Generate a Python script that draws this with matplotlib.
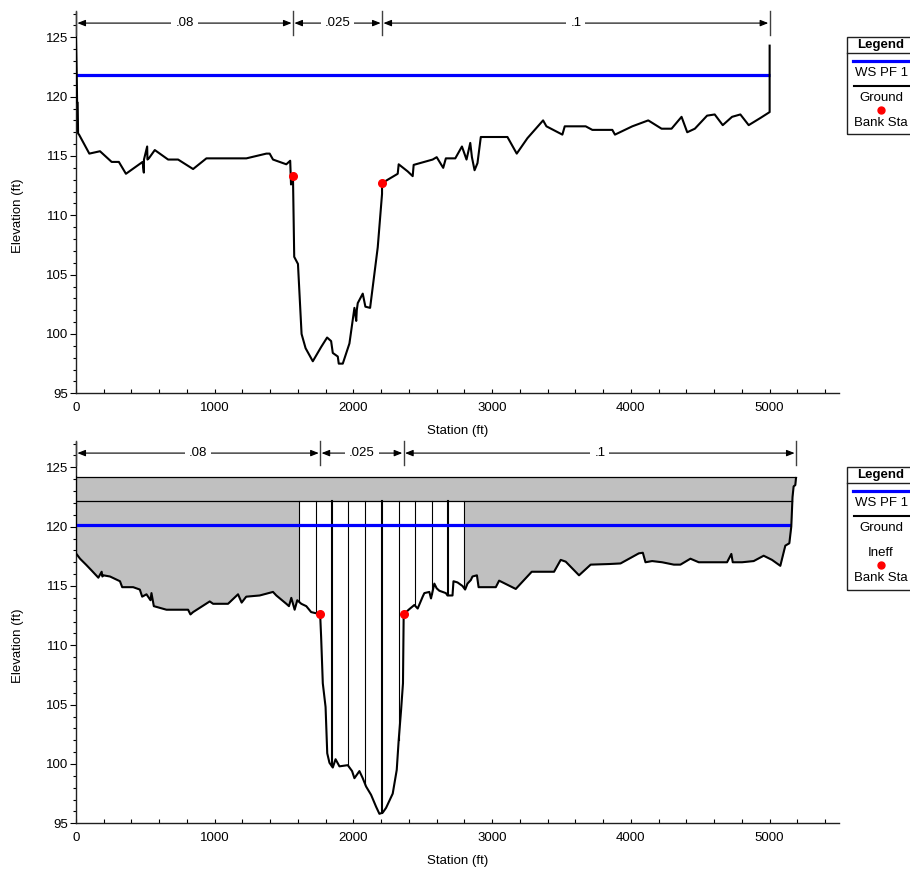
import numpy as np
import matplotlib
matplotlib.use("Agg")
import matplotlib.pyplot as plt
from matplotlib.patches import Rectangle
from matplotlib.lines import Line2D
from matplotlib.ticker import MultipleLocator

plt.rcParams['font.family'] = ['Liberation Sans', 'DejaVu Sans']
plt.rcParams['font.size'] = 9.5

# ---------------- data: top panel ----------------
top_ground_sta = [0, 5, 8, 12, 15, 22, 96, 173, 257, 309, 360, 480, 489, 490, 513, 515, 525, 568,
                  664, 736, 844, 940, 1228, 1372, 1396, 1420, 1516, 1544, 1550, 1556, 1564, 1573,
                  1600, 1626, 1655, 1707, 1767, 1810, 1839, 1851, 1887, 1894, 1923, 1971, 2007,
                  2020, 2024, 2031, 2067, 2086, 2120, 2175, 2206, 2206, 2247, 2319, 2326, 2391,
                  2427, 2434, 2571, 2600, 2647, 2666, 2734, 2782, 2815, 2842, 2854, 2873, 2894,
                  2918, 3110, 3177, 3254, 3367, 3391, 3506, 3523, 3674, 3722, 3866, 3885, 4010,
                  4125, 4221, 4293, 4365, 4406, 4461, 4549, 4604, 4662, 4729, 4789, 4849, 4933,
                  5000, 5000]
top_ground_elev = [125.0, 122.0, 119.5, 119.5, 116.9, 116.8, 115.2, 115.4, 114.5, 114.5, 113.5,
                   114.5, 113.6, 114.7, 115.8, 114.7, 114.8, 115.5, 114.7, 114.7, 113.9, 114.8,
                   114.8, 115.2, 115.2, 114.7, 114.3, 114.6, 112.6, 113.2, 113.3, 106.5, 105.9,
                   100.0, 98.8, 97.7, 98.9, 99.7, 99.4, 98.4, 98.1, 97.5, 97.5, 99.2, 102.2, 101.1,
                   102.0, 102.6, 103.4, 102.3, 102.2, 107.3, 111.8, 112.7, 113.0, 113.5, 114.3,
                   113.7, 113.3, 114.25, 114.7, 114.9, 114.0, 114.8, 114.8, 115.8, 114.7, 116.1,
                   114.9, 113.8, 114.4, 116.6, 116.6, 115.2, 116.5, 118.0, 117.5, 116.8, 117.5,
                   117.5, 117.2, 117.2, 116.8, 117.5, 118.0, 117.3, 117.3, 118.3, 117.0, 117.3,
                   118.4, 118.5, 117.6, 118.3, 118.5, 117.6, 118.2, 118.7, 124.3]
top_ws_elev = 121.8
top_bank_sta = [1564, 2206]
top_bank_elev = [113.3, 112.7]
top_n_bounds = [0, 1564, 2206, 5000]
top_n_values = [".08", ".025", ".1"]
top_legend_labels = ["WS PF 1", "Ground", "Bank Sta"]

# ---------------- data: bottom panel ----------------
bot_ground_sta = [0, 0, 29, 72, 113, 161, 185, 190, 197, 245, 317, 333, 412, 460, 477, 508, 537,
                  544, 561, 652, 676, 808, 825, 844, 964, 988, 1096, 1168, 1194, 1227, 1324, 1420,
                  1444, 1516, 1535, 1552, 1576, 1595, 1624, 1660, 1695, 1731, 1760, 1767, 1779,
                  1799, 1811, 1827, 1851, 1871, 1899, 1959, 1990, 2007, 2043, 2067, 2091, 2127,
                  2163, 2187, 2211, 2235, 2283, 2312, 2326, 2343, 2357, 2362, 2398, 2439, 2463,
                  2499, 2511, 2547, 2559, 2583, 2600, 2619, 2666, 2678, 2714, 2721, 2750, 2786,
                  2805, 2822, 2846, 2858, 2890, 2902, 3026, 3050, 3170, 3285, 3446, 3494, 3530,
                  3626, 3710, 3842, 3925, 4057, 4086, 4105, 4153, 4225, 4309, 4357, 4429, 4489,
                  4693, 4724, 4734, 4801, 4885, 4957, 5017, 5077, 5113, 5142, 5156, 5165, 5173,
                  5185, 5190]
bot_ground_elev = [124.2, 117.75, 117.3, 116.8, 116.3, 115.7, 116.2, 115.8, 115.9, 115.8, 115.4,
                   114.9, 114.9, 114.7, 114.1, 114.3, 113.8, 114.4, 113.3, 113.0, 113.0, 113.0,
                   112.6, 112.8, 113.7, 113.5, 113.5, 114.3, 113.6, 114.1, 114.2, 114.5, 114.2,
                   113.5, 113.3, 114.0, 113.0, 113.8, 113.5, 113.3, 112.8, 112.7, 112.6, 110.7,
                   106.8, 104.8, 100.9, 100.1, 99.7, 100.4, 99.8, 99.9, 99.4, 98.8, 99.4, 98.8,
                   98.1, 97.4, 96.4, 95.8, 95.9, 96.3, 97.5, 99.5, 102.0, 104.5, 106.8, 112.6,
                   113.0, 113.4, 113.1, 114.1, 114.4, 114.5, 113.95, 115.2, 114.8, 114.6, 114.4,
                   114.2, 114.2, 115.4, 115.3, 115.0, 114.7, 115.2, 115.5, 115.8, 115.9, 114.9,
                   114.9, 115.45, 114.75, 116.2, 116.2, 117.2, 117.05, 115.9, 116.8, 116.85,
                   116.9, 117.75, 117.8, 117.0, 117.1, 117.0, 116.8, 116.8, 117.3, 117.0, 117.0,
                   117.7, 117.0, 117.0, 117.1, 117.55, 117.2, 116.7, 118.4, 118.6, 120.0, 122.5,
                   123.4, 123.5, 124.1]
bot_ws_elev = 120.1
bot_bank_sta = [1760, 2362]
bot_bank_elev = [112.6, 112.6]
bot_n_bounds = [0, 1760, 2362, 5190]
bot_n_values = [".08", ".025", ".1"]
ineff_left_end = 1607
ineff_right_start = 2799
ineff_top_elev = 124.15
ineff_band_elev = 122.2
slice_sta = [1727, 1844, 1964, 2086, 2206, 2326, 2446, 2566, 2683]
slice_thick = [1844, 2206, 2683]
bot_legend_labels = ["WS PF 1", "Ground", "Ineff", "Bank Sta"]

W, H = 910, 872
fig = plt.figure(figsize=(W / 100, H / 100), dpi=100)

YMAX = 127.16


def style_axes(ax, ylabel_text="Elevation (ft)", xlabel_text="Station (ft)"):
    ax.set_xlim(0, 5500)
    ax.set_ylim(95, YMAX)
    for s in ["top", "right"]:
        ax.spines[s].set_visible(False)
    for s in ["left", "bottom"]:
        ax.spines[s].set_color("#202020")
        ax.spines[s].set_linewidth(1.0)
    ax.set_xticks([0, 1000, 2000, 3000, 4000, 5000])
    ax.xaxis.set_minor_locator(MultipleLocator(200))
    ax.set_yticks([95, 100, 105, 110, 115, 120, 125])
    ax.yaxis.set_minor_locator(MultipleLocator(1))
    ax.tick_params(axis="x", which="both", direction="in", length=3, width=0.8, pad=6,
                   labelsize=9.5, colors="black")
    ax.tick_params(axis="y", which="major", direction="out", length=4.5, width=0.8, pad=1,
                   labelsize=9.5)
    ax.tick_params(axis="y", which="minor", direction="out", length=2.2, width=0.8)
    ax.text(-0.076, (110.0 - 95) / (YMAX - 95), ylabel_text, transform=ax.transAxes,
            rotation=90, ha="center", va="center", fontsize=9.5)
    ax.text(0.5, -0.098, xlabel_text, transform=ax.transAxes, ha="center", va="center",
            fontsize=9.5)


def roughness(ax, bounds, values):
    y_arrow = 126.2
    for b in bounds:
        ax.plot([b, b], [125.2, 127.2], color="#404040", lw=1.0, clip_on=False, zorder=5)
    for i, v in enumerate(values):
        a, b = bounds[i], bounds[i + 1]
        ax.annotate("", xy=(a, y_arrow), xytext=(b, y_arrow),
                    arrowprops=dict(arrowstyle="<|-|>,head_length=0.5,head_width=0.2",
                                    color="black", lw=0.8, shrinkA=1, shrinkB=1),
                    zorder=5, annotation_clip=False)
        ax.text((a + b) / 2, y_arrow, v, ha="center", va="center", fontsize=9.5,
                bbox=dict(boxstyle="square,pad=0.3", fc="white", ec="none"), zorder=6)


# ---------------- top axes ----------------
ax1 = fig.add_axes([76 / W, 1 - 393.3 / H, (839 - 76) / W, (393.3 - 11.7) / H])
style_axes(ax1)
ax1.plot([0, top_ground_sta[-1]], [top_ws_elev, top_ws_elev], color="#0000FF", lw=2.3, zorder=3,
         solid_capstyle="butt")
ax1.plot(top_ground_sta, top_ground_elev, color="black", lw=1.5, zorder=4)
ax1.plot(top_bank_sta, top_bank_elev, "o", color="#FF0000", ms=5.5, zorder=6)
roughness(ax1, top_n_bounds, top_n_values)

# ---------------- bottom axes ----------------
ax2 = fig.add_axes([76 / W, 1 - 823.3 / H, (839 - 76) / W, (823.3 - 441.7) / H])
style_axes(ax2)

gs = np.array(bot_ground_sta, dtype=float)
ge = np.array(bot_ground_elev, dtype=float)
g_left = np.interp(ineff_left_end, gs[1:], ge[1:])
g_right = np.interp(ineff_right_start, gs[1:], ge[1:])

# gray ineffective polygon lower boundary
mask_l = gs[1:] < ineff_left_end
mask_r = gs > ineff_right_start
xs = np.concatenate([gs[1:][mask_l], [ineff_left_end, ineff_left_end, ineff_right_start,
                                      ineff_right_start], gs[mask_r]])
ys = np.concatenate([ge[1:][mask_l], [g_left, ineff_band_elev, ineff_band_elev, g_right],
                     ge[mask_r]])
ax2.fill_between(xs, ys, ineff_top_elev, color="#C0C0C0", lw=0, zorder=1)

# right-end crossings
tail = gs > 5050
x_band_end = np.interp(ineff_band_elev, ge[tail], gs[tail])
x_ws_end = np.interp(bot_ws_elev, ge[tail], gs[tail])

ax2.plot([0, gs[-1]], [ineff_top_elev, ineff_top_elev], color="black", lw=0.9, zorder=2)
ax2.plot([0, x_band_end], [ineff_band_elev, ineff_band_elev], color="black", lw=0.9, zorder=2)
for s in [ineff_left_end, ineff_right_start]:
    ax2.plot([s, s], [np.interp(s, gs[1:], ge[1:]), ineff_band_elev], color="black", lw=0.8,
             zorder=2)
for s in slice_sta:
    lw = 1.5 if s in slice_thick else 0.8
    ax2.plot([s, s], [np.interp(s, gs[1:], ge[1:]), ineff_band_elev], color="black", lw=lw,
             zorder=2)

ax2.plot([0, x_ws_end], [bot_ws_elev, bot_ws_elev], color="#0000FF", lw=2.3, zorder=3,
         solid_capstyle="butt")
ax2.plot(bot_ground_sta, bot_ground_elev, color="black", lw=1.5, zorder=4)
ax2.plot(bot_bank_sta, bot_bank_elev, "o", color="#FF0000", ms=5.5, zorder=6)
roughness(ax2, bot_n_bounds, bot_n_values)


# ---------------- legends (figure pixel coords) ----------------
def fx(X):
    return X / W


def fy(Y):
    return 1 - Y / H


def legend_box(top, bottom, labels, item_ys):
    fig.add_artist(Rectangle((fx(847.3), fy(bottom)), fx(930) - fx(847.3), fy(top) - fy(bottom),
                             transform=fig.transFigure, fill=False, ec="#202020", lw=1.0,
                             clip_on=False))
    fig.add_artist(Line2D([fx(847.3), fx(930)], [fy(top + 16.6), fy(top + 16.6)],
                          transform=fig.transFigure, color="#202020", lw=1.0))
    fig.text(fx(881), fy(top + 8.5), "Legend", ha="center", va="center", fontsize=9.5,
             fontweight="bold")
    # WS line
    fig.add_artist(Line2D([fx(853), fx(930)], [fy(top + 24), fy(top + 24)],
                          transform=fig.transFigure, color="#0000FF", lw=2.3))
    fig.text(fx(855), fy(item_ys[0]), labels[0], ha="left", va="center", fontsize=9.5)
    # Ground line
    fig.add_artist(Line2D([fx(854), fx(930)], [fy(top + 49), fy(top + 49)],
                          transform=fig.transFigure, color="black", lw=1.5))
    for lab, yy in zip(labels[1:], item_ys[1:]):
        fig.text(fx(881), fy(yy), lab, ha="center", va="center", fontsize=9.5)
    fig.add_artist(Line2D([fx(881)], [fy(item_ys[-1] - 12.5)], transform=fig.transFigure,
                          marker="o", color="#FF0000", ms=5, ls="none"))


legend_box(36.7, 134.0, top_legend_labels, [73.3, 97.7, 122.7])
legend_box(466.7, 590.0, bot_legend_labels, [503.3, 527.7, 552.7, 577.7])

fig.savefig("out.png", dpi=100)
